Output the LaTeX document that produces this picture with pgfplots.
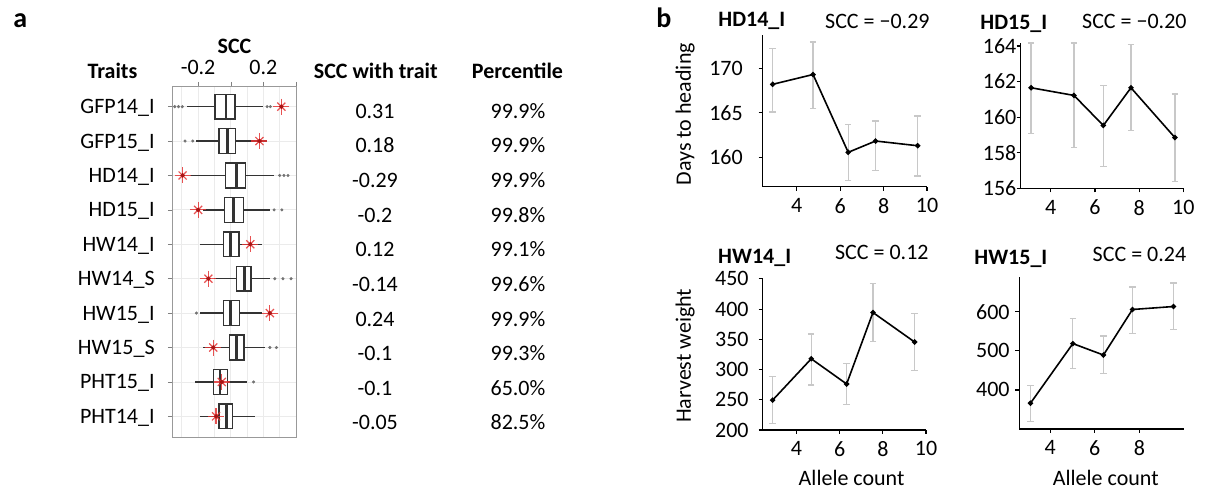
\documentclass[border=0pt]{standalone}
\usepackage{fontspec}
\setmainfont{Carlito}
\usepackage{pgfplots}
\pgfplotsset{compat=1.18}
\usepgfplotslibrary{statistics}
\definecolor{starred}{RGB}{228,52,52}
\definecolor{stardark}{RGB}{170,20,20}
\definecolor{ebgray}{RGB}{200,200,200}
\pgfplotsset{
  pb/.style={scale only axis, axis lines=left,
    axis line style={-, black, line width=0.6pt},
    tick style={black, line width=0.6pt}, major tick length=2pt, tick align=outside,
    xtick={4,6,8,10}, /pgf/number format/assume math mode=true, clip=false},
  eb/.style={draw=none, mark=none, forget plot, error bars/.cd, y dir=both, y explicit,
    error mark=|,
    error bar style={draw=ebgray, line width=0.6pt},
    error mark options={draw=ebgray, line width=0.6pt, mark size=1.6pt}},
  ln/.style={black, line width=0.8pt, mark=*, mark size=0.9pt},
  bx/.style={solid, draw=black!80, line width=0.7pt, fill=white}
}
\begin{document}
\fontsize{11}{13}\selectfont
\begin{tikzpicture}[x=1pt,y=1pt]
\useasboundingbox (0,0) rectangle (603,245);
% ---------- panel a ----------
\node[anchor=base west, font=\fontsize{14}{16}\selectfont\bfseries, inner sep=0pt] at (6.5,231) {a};
\node[anchor=base, font=\bfseries, inner sep=0pt] at (117.25,218.3) {SCC};
\node[anchor=base, font=\bfseries, inner sep=0pt] at (56.25,205.85) {Traits};
\node[anchor=base, font=\bfseries, inner sep=0pt] at (187.9,205.85) {SCC with trait};
\node[anchor=base, font=\bfseries, inner sep=0pt] at (258.75,205.85) {Percentile};
\foreach \v/\p [count=\i from 0] in {0.31/99.9\%, 0.18/99.9\%, -0.29/99.9\%, -0.2/99.8\%, 0.12/99.1\%, -0.14/99.6\%, 0.24/99.9\%, -0.1/99.3\%, -0.1/65.0\%, -0.05/82.5\%}{
  \node[anchor=base, inner sep=0pt] at (187.5,185.85-17.315*\i) {\v};
  \node[anchor=base, inner sep=0pt] at (259,185.85-17.315*\i) {\p};
}
\begin{axis}[at={(86pt,26.5pt)}, anchor=south west, scale only axis,
  width=62pt, height=175.5pt,
  xmin=-0.36, xmax=0.4, ymin=0.4, ymax=10.6, y dir=reverse,
  xtick={-0.2,0,0.2,0.4}, xticklabels={-0.2,,0.2,},
  minor xtick={-0.3,-0.1,0.1,0.3},
  xtick pos=right, xticklabel pos=right,
  ytick={1,...,10},
  yticklabels={GFP14\_I,GFP15\_I,HD14\_I,HD15\_I,HW14\_I,HW14\_S,HW15\_I,HW15\_S,PHT15\_I,PHT14\_I},
  ytick pos=left,
  yticklabel style={anchor=base east, yshift=-3.48pt, inner xsep=0pt, xshift=-6.5pt},
  grid=both, major grid style={black!8}, minor grid style={black!8},
  minor tick length=0pt, major tick length=2pt, tick align=outside,
  axis line style={black!40}, tick style={black!50},
  boxplot/draw direction=x, boxplot/box extend=0.72, boxplot/whisker extend=0,
  boxplot/every median/.style={line width=1.4pt},
  clip=false]
\addplot[bx, boxplot prepared={draw position=1, lower whisker=-0.27, lower quartile=-0.096, median=-0.029, upper quartile=0.027, upper whisker=0.20}] coordinates {};
\addplot[bx, boxplot prepared={draw position=2, lower whisker=-0.21, lower quartile=-0.072, median=-0.018, upper quartile=0.031, upper whisker=0.22}] coordinates {};
\addplot[bx, boxplot prepared={draw position=3, lower whisker=-0.25, lower quartile=-0.031, median=0.033, upper quartile=0.092, upper whisker=0.267}] coordinates {};
\addplot[bx, boxplot prepared={draw position=4, lower whisker=-0.17, lower quartile=-0.039, median=0.016, upper quartile=0.078, upper whisker=0.24}] coordinates {};
\addplot[bx, boxplot prepared={draw position=5, lower whisker=-0.19, lower quartile=-0.045, median=0.0, upper quartile=0.051, upper whisker=0.19}] coordinates {};
\addplot[bx, boxplot prepared={draw position=6, lower whisker=-0.10, lower quartile=0.037, median=0.084, upper quartile=0.123, upper whisker=0.24}] coordinates {};
\addplot[bx, boxplot prepared={draw position=7, lower whisker=-0.19, lower quartile=-0.045, median=0.0, upper quartile=0.053, upper whisker=0.19}] coordinates {};
\addplot[bx, boxplot prepared={draw position=8, lower whisker=-0.17, lower quartile=-0.008, median=0.033, upper quartile=0.082, upper whisker=0.21}] coordinates {};
\addplot[bx, boxplot prepared={draw position=9, lower whisker=-0.22, lower quartile=-0.107, median=-0.066, upper quartile=-0.018, upper whisker=0.098}] coordinates {};
\addplot[bx, boxplot prepared={draw position=10, lower whisker=-0.19, lower quartile=-0.072, median=-0.025, upper quartile=0.01, upper whisker=0.15}] coordinates {};
% outliers
\addplot[only marks, mark=*, mark size=0.55pt, black!55] coordinates {
(-0.343,1) (-0.32,1) (-0.297,1) (0.223,1) (0.243,1)
(-0.28,2) (-0.233,2)
(0.30,3) (0.326,3) (0.351,3)
(0.266,4) (0.313,4)
(0.27,6) (0.32,6) (0.37,6)
(-0.21,7)
(0.24,8) (0.28,8)
(0.14,9)};
% observed SCC
\addplot[only marks, mark=+, mark size=4pt, starred, line width=0.6pt, opacity=0.85] coordinates {(0.31,1) (0.176,2) (-0.295,3) (-0.2,4) (0.12,5) (-0.137,6) (0.24,7) (-0.107,8) (-0.055,9) (-0.09,10)};
\addplot[only marks, mark=x, mark size=2.85pt, starred, line width=0.6pt, opacity=0.85] coordinates {(0.31,1) (0.176,2) (-0.295,3) (-0.2,4) (0.12,5) (-0.137,6) (0.24,7) (-0.107,8) (-0.055,9) (-0.09,10)};
\addplot[only marks, mark=*, mark size=0.9pt, stardark] coordinates {(0.31,1) (0.176,2) (-0.295,3) (-0.2,4) (0.12,5) (-0.137,6) (0.24,7) (-0.107,8) (-0.055,9) (-0.09,10)};
\end{axis}
% ---------- panel b ----------
\node[anchor=base west, font=\fontsize{14}{16}\selectfont\bfseries, inner sep=0pt] at (328,231) {b};
\node[anchor=base west, font=\bfseries, inner sep=0pt] at (359,231.6) {HD14\_I};
\node[anchor=base east, inner sep=0pt] at (465,230.9) {SCC = −0.29};
\node[anchor=base west, font=\bfseries, inner sep=0pt] at (490,230.3) {HD15\_I};
\node[anchor=base east, inner sep=0pt] at (593.5,230.8) {SCC = −0.20};
\node[anchor=base west, font=\bfseries, inner sep=0pt] at (358.9,113.3) {HW14\_I};
\node[anchor=base east, inner sep=0pt] at (464.5,115.3) {SCC = 0.12};
\node[anchor=base west, font=\bfseries, inner sep=0pt] at (487,112.8) {HW15\_I};
\node[anchor=base east, inner sep=0pt] at (593.3,114.2) {SCC = 0.24};
\node[rotate=90, inner sep=0pt] at (342.5,187.9) {Days to heading};
\node[rotate=90, inner sep=0pt] at (342.5,67.1) {Harvest weight};
\node[anchor=base, inner sep=0pt] at (425.8,2) {Allele count};
\node[anchor=base, inner sep=0pt] at (552.9,2) {Allele count};
% HD14_I
\begin{axis}[pb, at={(381.35pt,151.65pt)}, anchor=south west, width=82.15pt, height=75.85pt,
  xmin=2.43, xmax=10, ymin=156.7, ymax=173.74, ytick={160,165,170},
  yticklabel style={inner xsep=0pt, xshift=-7.8pt}]
\addplot[eb] table[x=x, y=y, y error plus=ep, y error minus=em] {
x y ep em
2.89 168.20 4.05 3.10
4.75 169.30 3.65 3.80
6.37 160.56 3.14 3.16
7.63 161.83 2.25 3.33
9.57 161.30 3.34 3.40
};
\addplot[ln] table[x=x, y=y] {
x y
2.89 168.20
4.75 169.30
6.37 160.56
7.63 161.83
9.57 161.30
};
\end{axis}
% HD15_I
\begin{axis}[pb, at={(510.35pt,150.85pt)}, anchor=south west, width=81.3pt, height=72.5pt,
  xmin=2.64, xmax=10, ymin=156, ymax=164.15, ytick={156,158,...,164},
  yticklabel style={inner xsep=0pt, xshift=0pt}]
\addplot[eb] table[x=x, y=y, y error plus=ep, y error minus=em] {
x y ep em
3.11 161.65 2.52 2.55
5.05 161.22 2.95 2.93
6.38 159.53 2.25 2.29
7.63 161.65 2.45 2.42
9.62 158.85 2.45 2.47
};
\addplot[ln] table[x=x, y=y] {
x y
3.11 161.65
5.05 161.22
6.38 159.53
7.63 161.65
9.62 158.85
};
\end{axis}
% HW14_I
\begin{axis}[pb, at={(381.35pt,30pt)}, anchor=south west, width=81.65pt, height=76.15pt,
  xmin=2.43, xmax=10, ymin=200, ymax=452, ytick={200,250,...,450},
  yticklabel style={inner xsep=0pt, xshift=-4.85pt}]
\addplot[eb] table[x=x, y=y, y error plus=ep, y error minus=em] {
x y ep em
2.89 249.4 38.9 38.8
4.68 317.8 41.1 43.4
6.32 276.1 34.5 34.4
7.54 394.4 48.4 47.7
9.47 345.6 47.7 47.3
};
\addplot[ln] table[x=x, y=y] {
x y
2.89 249.4
4.68 317.8
6.32 276.1
7.54 394.4
9.47 345.6
};
\end{axis}
% HW15_I
\begin{axis}[pb, at={(509.65pt,30.5pt)}, anchor=south west, width=82.35pt, height=76.15pt,
  xmin=2.62, xmax=10, xtick={4,6,8}, ymin=300, ymax=690, ytick={400,500,600},
  yticklabel style={inner xsep=0pt, xshift=-2.65pt}]
\addplot[eb] table[x=x, y=y, y error plus=ep, y error minus=em] {
x y ep em
3.12 366.0 45.0 46.0
5.02 518.7 64.7 63.0
6.39 489.4 48.5 47.7
7.69 606.0 57.8 61.3
9.53 613.6 60.4 59.6
};
\addplot[ln] table[x=x, y=y] {
x y
3.12 366.0
5.02 518.7
6.39 489.4
7.69 606.0
9.53 613.6
};
\end{axis}
\end{tikzpicture}
\end{document}
